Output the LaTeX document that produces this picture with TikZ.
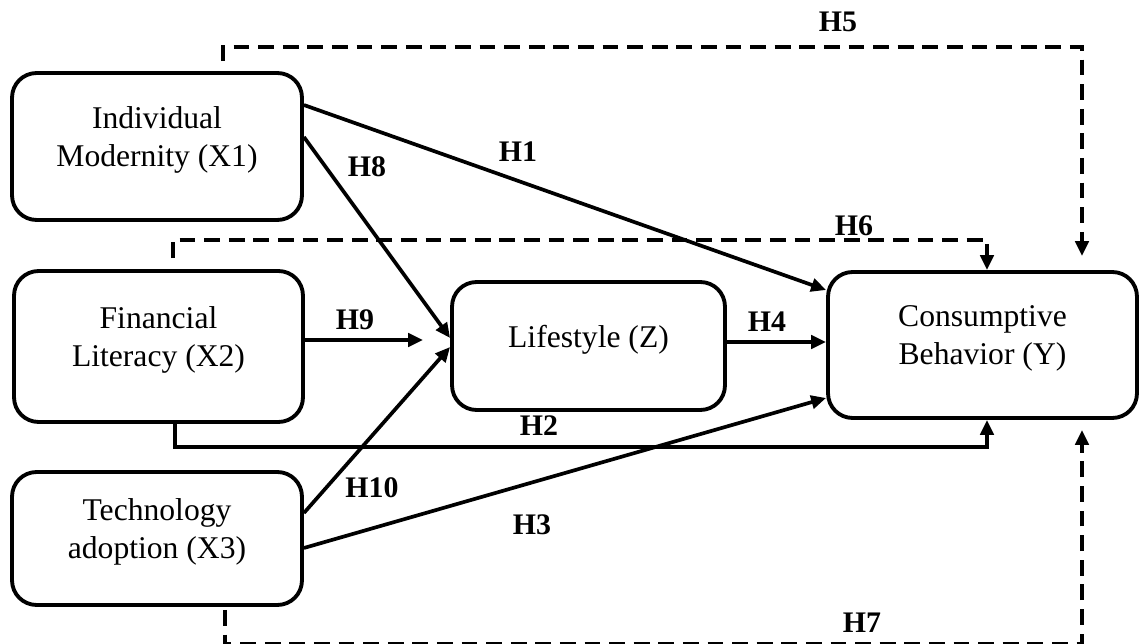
\documentclass[tikz,border=0pt]{standalone}
\usepackage{fontspec}
\setmainfont{Liberation Serif}
\usetikzlibrary{arrows.meta}

\begin{document}
\begin{tikzpicture}[x=0.02cm, y=-0.02cm, >={Triangle[length=8.5pt,width=7.5pt]},
    box/.style={draw, line width=2.2pt, rounded corners=14pt, align=center, text depth=11pt, font=\fontsize{18}{21.5}\selectfont},
    hyp/.style={font=\fontsize{17}{20}\selectfont\bfseries},
    link/.style={->, line width=2.1pt},
    dlink/.style={->, line width=2.1pt, dash pattern=on 9pt off 5pt}]
    \useasboundingbox (0,0) rectangle (1139,644);
    \node[box, minimum width=5.8cm, minimum height=2.94cm] (x1) at (157,146.5) {Individual\\Modernity (X1)};
    \node[box, minimum width=5.78cm, minimum height=3.02cm] (x2) at (158.5,346.5) {Financial\\Literacy (X2)};
    \node[box, minimum width=5.8cm, minimum height=2.66cm] (x3) at (157,538.5) {Technology\\adoption (X3)};
    \node[box, minimum width=5.46cm, minimum height=2.56cm] (z) at (588.5,346) {Lifestyle (Z)};
    \node[box, minimum width=6.18cm, minimum height=2.92cm] (y) at (982.5,345) {Consumptive\\Behavior (Y)};
    % direct paths
    \draw[link] ([yshift=0.83cm]x1.east) -- ([yshift=1.1cm]y.west);
    \draw[link] ([xshift=0.33cm]x2.south) -- ++(0,23) -| ([xshift=0.09cm]y.south);
    \draw[link] ([yshift=-0.19cm]x3.east) -- ([yshift=-1.06cm]y.west);
    \draw[link] ([yshift=0.08cm]z.east) -- ([yshift=0.08cm]z.east -| y.west);
    % into the mediator
    \draw[link] ([yshift=0.19cm]x1.east) -- ([yshift=0.16cm]z.west);
    \draw[link, shorten >=0.54cm] ([yshift=0.13cm]x2.east) -- ([yshift=0.13cm]x2.east -| z.west);
    \draw[link] ([yshift=0.51cm]x3.east) -- ([yshift=-0.02cm]z.west);
    % mediated paths
    \draw[dlink] ([xshift=1.32cm,yshift=0.2cm]x1.north) -- ++(0,-14) -| ([xshift=1.99cm,yshift=0.28cm]y.north);
    \draw[dlink] ([xshift=0.29cm,yshift=0.22cm]x2.north) -- ++(0,-18) -| ([xshift=0.09cm]y.north);
    \draw[dlink] ([xshift=1.36cm,yshift=-0.06cm]x3.south) -- ++(0,34) -| ([xshift=1.99cm,yshift=-0.2cm]y.south);
    % labels
    \node[hyp] (h1) at (518,152) {H1};
    \node[hyp] (h2) at (539,426) {H2};
    \node[hyp] (h3) at (532,525) {H3};
    \node[hyp] (h4) at (767,322) {H4};
    \node[hyp] (h5) at (838,22) {H5};
    \node[hyp] (h6) at (854,226) {H6};
    \node[hyp] (h7) at (862,623) {H7};
    \node[hyp] (h8) at (367,167) {H8};
    \node[hyp] (h9) at (355,320) {H9};
    \node[hyp] (h10) at (372,488) {H10};
\end{tikzpicture}
\end{document}
